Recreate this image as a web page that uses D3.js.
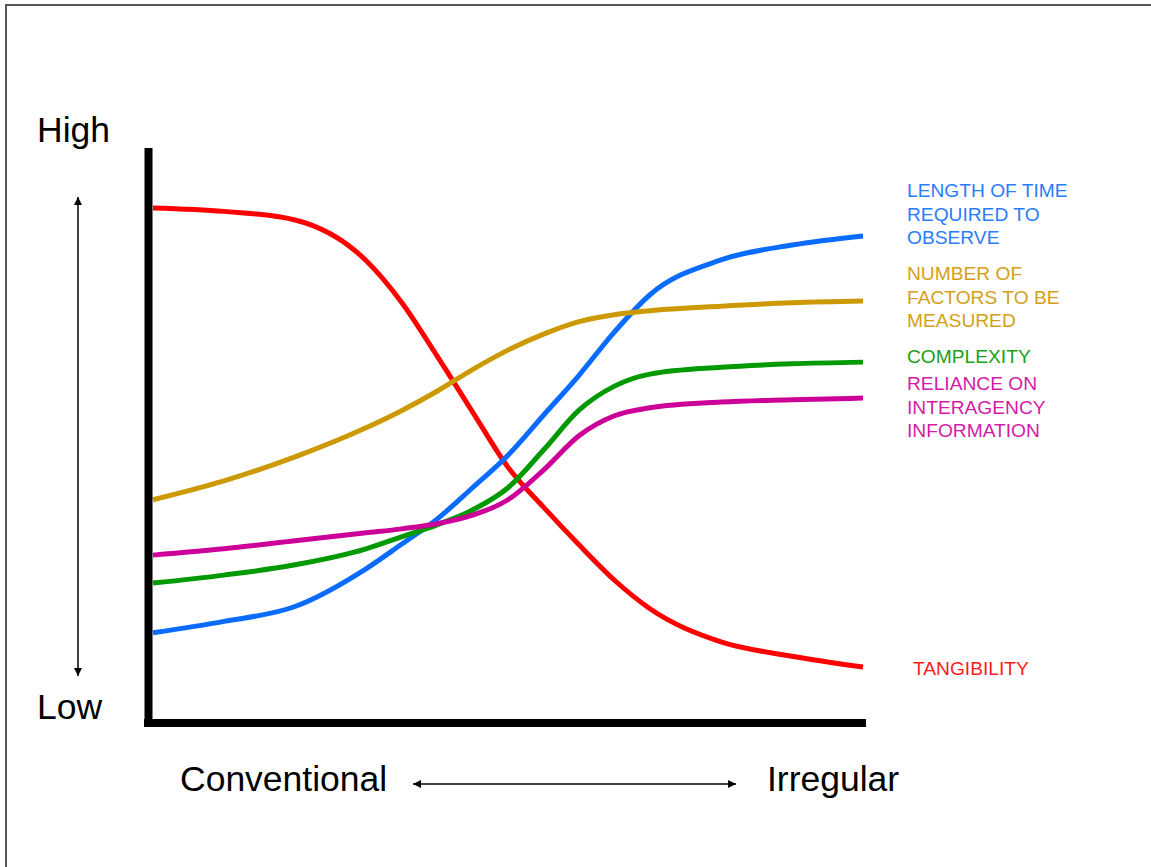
<!DOCTYPE html>
<html>
<head>
<meta charset="utf-8">
<script src="https://cdn.jsdelivr.net/npm/d3@7"></script>
<style>
  html, body { margin: 0; padding: 0; background: #fff; }
  svg { display: block; font-family: Arial, "Liberation Sans", sans-serif; }
</style>
</head>
<body>
<svg></svg>
<script>
// shared positions along the x axis (0 = conventional, 100 = irregular)
const xs = [0, 10, 20, 30, 35, 40, 45, 50, 55, 60, 65, 70, 80, 90, 100];

// 0 = low, 100 = high
const tangibility = [89.5, 88.9, 87.4, 80.3, 73.0, 63.6, 53.8, 44.1, 37.1, 30.5, 24.3, 19.3, 13.5, 11.0, 9.1];
const timeToObserve = [15.1, 17.1, 19.7, 26.3, 30.6, 35.0, 40.5, 46.2, 53.2, 60.2, 67.8, 74.3, 80.4, 83.0, 84.6];
const factorsMeasured = [38.4, 41.7, 45.9, 51.0, 54.0, 57.4, 61.2, 64.6, 67.4, 69.6, 70.8, 71.5, 72.3, 72.9, 73.2];
const complexity = [23.8, 25.2, 27.0, 29.8, 31.9, 34.0, 36.6, 40.5, 47.1, 54.1, 58.3, 60.4, 61.6, 62.2, 62.5];
const reliance = [28.7, 29.8, 31.2, 32.6, 33.3, 34.2, 35.7, 38.4, 43.6, 49.6, 53.1, 54.5, 55.5, 55.9, 56.2];

const seriesNames = ['tangibility', 'time', 'factors', 'complexity', 'reliance'];
const seriesValues = [tangibility, timeToObserve, factorsMeasured, complexity, reliance];
const seriesLabels = [
  ['TANGIBILITY'],
  ['LENGTH OF TIME', 'REQUIRED TO', 'OBSERVE'],
  ['NUMBER OF', 'FACTORS TO BE', 'MEASURED'],
  ['COMPLEXITY'],
  ['RELIANCE ON', 'INTERAGENCY', 'INFORMATION']
];
const yLabels = ['High', 'Low'];
const xLabels = ['Conventional', 'Irregular'];

const WIDTH = 1151;
const HEIGHT = 867;

const colors = {
  tangibility: '#ff0000',
  time: '#0a6cff',
  factors: '#cc9900',
  complexity: '#009900',
  reliance: '#cc0099'
};
const textColors = {
  tangibility: '#ff1a1a',
  time: '#2a7cff',
  factors: '#d4a017',
  complexity: '#1aa01a',
  reliance: '#d41aa8'
};
// label anchor: [x, first baseline]
const labelPos = {
  tangibility: [913, 675],
  time: [907, 197],
  factors: [907, 280],
  complexity: [907, 363],
  reliance: [907, 390]
};

const svg = d3.select('svg')
  .attr('width', WIDTH)
  .attr('height', HEIGHT);

// frame
svg.append('path')
  .attr('d', `M6,${HEIGHT + 5} L6,5 L${WIDTH + 5},5`)
  .attr('fill', 'none')
  .attr('stroke', '#555')
  .attr('stroke-width', 2);

const xScale = d3.scaleLinear().domain([0, 100]).range([153, 863]);
const yScale = d3.scaleLinear().domain([0, 100]).range([719, 148]);

const line = d3.line()
  .x((d, i) => xScale(xs[i]))
  .y(d => yScale(d))
  .curve(d3.curveMonotoneX);

const curves = svg.append('g');
curves.selectAll('.curve')
  .data(seriesNames)
  .enter()
  .append('path')
  .classed('curve', true)
  .attr('d', (name, i) => line(seriesValues[i]))
  .attr('fill', 'none')
  .attr('stroke', name => colors[name])
  .attr('stroke-width', 5);

// axes as heavy black lines
svg.append('line')
  .attr('x1', 148.5).attr('x2', 148.5)
  .attr('y1', yScale(100)).attr('y2', 727)
  .attr('stroke', '#000').attr('stroke-width', 8);
svg.append('line')
  .attr('x1', 144).attr('x2', 866)
  .attr('y1', 723).attr('y2', 723)
  .attr('stroke', '#000').attr('stroke-width', 8);

// arrows
const defs = svg.append('defs');
defs.append('marker')
  .attr('id', 'head')
  .attr('viewBox', '0 0 10 10')
  .attr('refX', 10).attr('refY', 5)
  .attr('markerWidth', 8).attr('markerHeight', 8)
  .attr('markerUnits', 'userSpaceOnUse')
  .attr('orient', 'auto-start-reverse')
  .append('path')
  .attr('d', 'M0,0 L10,5 L0,10 Z')
  .attr('fill', '#000');

svg.append('line')
  .attr('x1', 78).attr('x2', 78)
  .attr('y1', 197).attr('y2', 676)
  .attr('stroke', '#000').attr('stroke-width', 1.5)
  .attr('marker-start', 'url(#head)')
  .attr('marker-end', 'url(#head)');

svg.append('line')
  .attr('x1', 413).attr('x2', 736)
  .attr('y1', 784).attr('y2', 784)
  .attr('stroke', '#000').attr('stroke-width', 1.5)
  .attr('marker-start', 'url(#head)')
  .attr('marker-end', 'url(#head)');

// axis words
svg.selectAll('.ylab')
  .data(yLabels)
  .enter()
  .append('text')
  .classed('ylab', true)
  .attr('x', 37)
  .attr('y', (d, i) => i === 0 ? 142 : 719)
  .attr('font-size', 35.5)
  .attr('fill', '#000')
  .text(d => d);

svg.selectAll('.xlab')
  .data(xLabels)
  .enter()
  .append('text')
  .classed('xlab', true)
  .attr('x', (d, i) => i === 0 ? 180 : 767)
  .attr('y', 791)
  .attr('font-size', 35.5)
  .attr('fill', '#000')
  .text(d => d);

// series labels
const labels = svg.selectAll('.label')
  .data(seriesNames)
  .enter()
  .append('text')
  .classed('label', true)
  .attr('x', name => labelPos[name][0])
  .attr('y', name => labelPos[name][1])
  .attr('font-size', 19.2)
  .attr('fill', name => textColors[name]);

labels.selectAll('tspan')
  .data((name, i) => seriesLabels[i].map(t => ({ t, name })))
  .enter()
  .append('tspan')
  .attr('x', d => labelPos[d.name][0])
  .attr('dy', (d, i) => i === 0 ? 0 : 23.5)
  .text(d => d.t);
</script>
</body>
</html>
